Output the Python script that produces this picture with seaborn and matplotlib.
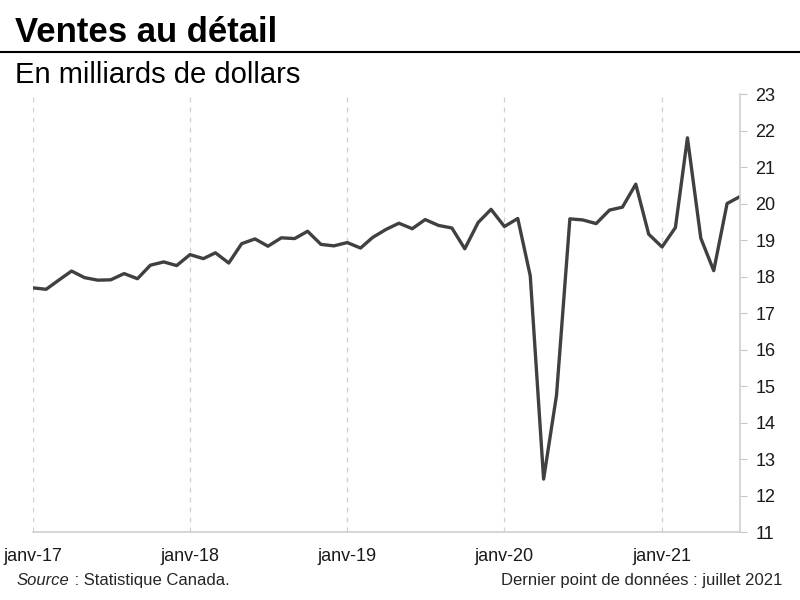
import pandas as pd
import matplotlib
matplotlib.use("Agg")
import matplotlib.pyplot as plt
import seaborn as sns

# ventes au détail mensuelles, janv-2017 à juil-2021 (milliards $)
start_month = "2017-01-01"
end_month = "2021-07-01"
ventes = [
    17.69, 17.65, 17.89, 18.15, 17.97, 17.90, 17.91, 18.08, 17.94, 18.31, 18.40, 18.30,  # 2017
    18.60, 18.49, 18.65, 18.37, 18.90, 19.03, 18.83, 19.06, 19.04, 19.24, 18.88, 18.84,  # 2018
    18.93, 18.78, 19.07, 19.29, 19.46, 19.31, 19.56, 19.40, 19.33, 18.76, 19.48, 19.84,  # 2019
    19.37, 19.59, 18.02, 12.45, 14.75, 19.58, 19.55, 19.45, 19.82, 19.90, 20.53, 19.16,  # 2020
    18.81, 19.34, 21.80, 19.05, 18.16, 20.00, 20.19,                                      # 2021
]
tick_years = ["2017", "2018", "2019", "2020", "2021"]
tick_labels = ["janv-17", "janv-18", "janv-19", "janv-20", "janv-21"]
y_ticks = list(range(11, 24))

df = pd.DataFrame({
    "mois": pd.date_range(start_month, end_month, freq="MS"),
    "ventes": ventes,
})

sns.set_style("white")
plt.rcParams["font.family"] = ["Liberation Sans", "DejaVu Sans"]

fig = plt.figure(figsize=(8, 6), dpi=100)
ax = fig.add_axes([0.041, 0.1133, 0.884, 0.73])

sns.lineplot(data=df, x="mois", y="ventes", ax=ax, color="#404040", linewidth=2.4)

ticks = [pd.Timestamp(y + "-01-01") for y in tick_years]
ax.set_xticks(ticks)
ax.set_xticklabels(tick_labels)
ax.set_xlim(pd.Timestamp(start_month), pd.Timestamp(end_month))
ax.set_ylim(11, 23)
ax.set_yticks(y_ticks)

for t in ticks:
    ax.axvline(t, color="#d0d0d0", linestyle=(0, (4, 4)), linewidth=0.9, zorder=0)

ax.yaxis.tick_right()
ax.tick_params(axis="y", which="both", right=True, length=5, color="#c8c8c8",
               labelsize=13, pad=6, labelcolor="#1a1a1a")
ax.tick_params(axis="x", bottom=False, labelsize=13, pad=8, labelcolor="#1a1a1a")

for side in ["top", "left"]:
    ax.spines[side].set_visible(False)
for side in ["right", "bottom"]:
    ax.spines[side].set_color("#d0d0d0")
    ax.spines[side].set_linewidth(1.2)
ax.set_xlabel("")
ax.set_ylabel("")

fig.text(0.019, 0.945, "Ventes au détail", fontsize=25, fontweight="bold",
         va="center", ha="left", color="black")
fig.add_artist(plt.Line2D([0, 1], [0.913, 0.913], color="black", linewidth=1.5,
                          transform=fig.transFigure))
fig.text(0.019, 0.875, "En milliards de dollars", fontsize=21, va="center",
         ha="left", color="black")

src = fig.text(0.021, 0.033, "Source", fontsize=12, style="italic", va="center", ha="left")
fig.canvas.draw()
bb = src.get_window_extent()
fig.text(bb.x1 / (fig.dpi * 8), 0.033, " : Statistique Canada.", fontsize=12,
         va="center", ha="left")
fig.text(0.978, 0.033, "Dernier point de données : juillet 2021", fontsize=12,
         va="center", ha="right")

fig.savefig("out.png", dpi=100)
